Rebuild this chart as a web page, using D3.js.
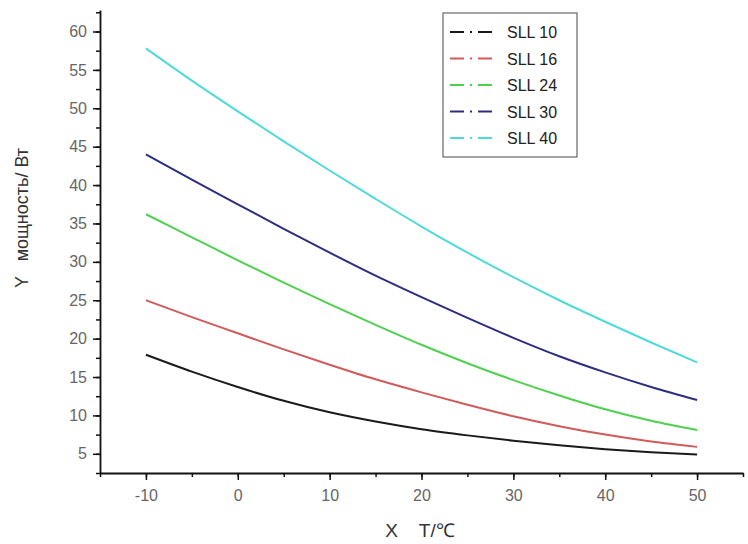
<!DOCTYPE html>
<html>
<head>
<meta charset="utf-8">
<script src="https://cdn.jsdelivr.net/npm/d3@7"></script>
<style>
  body { margin: 0; background: #fff; }
  text { font-family: "Liberation Sans", Arial, sans-serif; }
</style>
</head>
<body>
<svg id="chart"></svg>
<script>
// temperatures, °C
const temps = [-10, -5, 0, 5, 10, 15, 20, 25, 30, 35, 40, 45, 50];
const seriesNames = ["SLL 10", "SLL 16", "SLL 24", "SLL 30", "SLL 40"];
const sll10 = [17.9, 15.7, 13.7, 11.9, 10.4, 9.2, 8.2, 7.4, 6.7, 6.1, 5.6, 5.2, 4.9];
const sll16 = [25.0, 22.8, 20.7, 18.6, 16.6, 14.7, 13.0, 11.4, 9.9, 8.6, 7.5, 6.6, 5.9];
const sll24 = [36.2, 33.2, 30.2, 27.3, 24.5, 21.8, 19.2, 16.8, 14.6, 12.6, 10.8, 9.3, 8.1];
const sll30 = [44.0, 40.7, 37.5, 34.3, 31.2, 28.2, 25.4, 22.7, 20.1, 17.7, 15.6, 13.7, 12.0];
const sll40 = [57.8, 53.6, 49.6, 45.7, 41.9, 38.2, 34.6, 31.2, 28.0, 25.0, 22.2, 19.5, 16.9];
const xTicks = [-10, 0, 10, 20, 30, 40, 50];
const yTicks = [5, 10, 15, 20, 25, 30, 35, 40, 45, 50, 55, 60];

const colors = ["#1a1a1a", "#d35a5a", "#4fd04f", "#2e2e80", "#4fdada"];
const allSeries = [sll10, sll16, sll24, sll30, sll40];

const width = 748, height = 544;
const margin = {top: 10, right: 5, left: 100, bottom: 71};

const svg = d3.select("#chart").attr("width", width).attr("height", height);

const x = d3.scaleLinear().domain([-15, 55]).range([margin.left, width - margin.right]);
const y = d3.scaleLinear().domain([2.5, 62.8]).range([height - margin.bottom, margin.top]);

// minor ticks first, majors on top
svg.append("g")
    .attr("transform", `translate(0,${height - margin.bottom})`)
    .call(d3.axisBottom(x).tickValues(d3.range(-15, 56, 5)).tickSize(4).tickFormat(""))
    .call(g => g.select(".domain").remove())
    .selectAll("line").attr("stroke", "#111").attr("stroke-width", 1.5);

svg.append("g")
    .attr("transform", `translate(${margin.left},0)`)
    .call(d3.axisLeft(y).tickValues(d3.range(2.5, 62.6, 2.5)).tickSize(4).tickFormat(""))
    .call(g => g.select(".domain").remove())
    .selectAll("line").attr("stroke", "#111").attr("stroke-width", 1.5);

const xAxis = svg.append("g")
    .attr("transform", `translate(0,${height - margin.bottom})`)
    .call(d3.axisBottom(x).tickValues(xTicks).tickSize(7).tickPadding(10)
        .tickSizeOuter(0).tickFormat(d => String(d)));

const yAxis = svg.append("g")
    .attr("transform", `translate(${margin.left},0)`)
    .call(d3.axisLeft(y).tickValues(yTicks).tickSize(7).tickPadding(6)
        .tickSizeOuter(0).tickFormat(d => String(d)));

[xAxis, yAxis].forEach(a => {
    a.select(".domain").attr("stroke", "#111").attr("stroke-width", 1.8);
    a.selectAll("line").attr("stroke", "#111").attr("stroke-width", 1.5);
    a.selectAll("text").attr("fill", "#666").style("font-size", "16px")
        .style("font-family", "'Liberation Sans', Arial, sans-serif");
});

const line = d3.line()
    .x((d, i) => x(temps[i]))
    .y(d => y(d))
    .curve(d3.curveMonotoneX);

svg.append("g").selectAll("path")
    .data(allSeries)
    .enter().append("path")
    .attr("d", d => line(d))
    .attr("fill", "none")
    .attr("stroke", (d, i) => colors[i])
    .attr("stroke-width", 2);

// axis titles
svg.append("text")
    .attr("x", 420).attr("y", 537)
    .attr("text-anchor", "middle")
    .attr("fill", "#333")
    .style("font-size", "19px")
    .style("white-space", "pre")
    .text("X    T/℃");

svg.append("text")
    .attr("transform", "translate(28,218) rotate(-90)")
    .attr("text-anchor", "middle")
    .attr("fill", "#333")
    .style("font-size", "18px")
    .style("white-space", "pre")
    .text("Y   мощность/ Вт");

// legend
const legend = svg.append("g").attr("transform", "translate(443,13)");
legend.append("rect")
    .attr("width", 134).attr("height", 144)
    .attr("fill", "#fff").attr("stroke", "#666").attr("stroke-width", 1.2);

const item = legend.selectAll(".legend-item")
    .data(seriesNames)
    .enter().append("g")
    .attr("transform", (d, i) => `translate(0,${19 + i * 26.5})`);

item.append("line")
    .attr("x1", 7).attr("x2", 55)
    .attr("stroke", (d, i) => colors[i])
    .attr("stroke-width", 2)
    .attr("stroke-dasharray", "14,6,2,6,14");

item.append("text")
    .attr("x", 64).attr("y", 6)
    .attr("fill", "#222")
    .style("font-size", "16px")
    .text(d => d);
</script>
</body>
</html>
